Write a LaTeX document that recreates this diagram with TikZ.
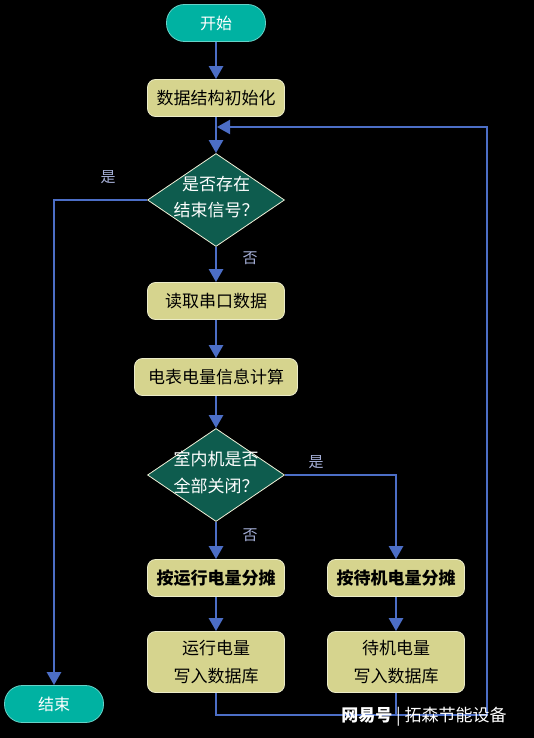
\documentclass[tikz,border=0pt]{standalone}
\usepackage{fontspec}
\setmainfont{Noto Sans CJK SC}
\usetikzlibrary{shapes.geometric,arrows.meta}
\definecolor{pillc}{RGB}{0,178,162}
\definecolor{boxc}{RGB}{214,212,142}
\definecolor{boxb}{RGB}{235,235,200}
\definecolor{diac}{RGB}{14,92,78}
\definecolor{linec}{RGB}{76,110,198}
\definecolor{lblc}{RGB}{165,175,215}
\tikzset{
  pill/.style={draw=pillc!60!white, line width=0.8pt, fill=pillc, rounded corners=18pt, minimum width=99pt, minimum height=37pt, inner sep=0pt, text=white, font=\fontsize{16}{19}\selectfont},
  box/.style={draw=boxb, line width=0.8pt, fill=boxc, rounded corners=8pt, minimum width=137pt, minimum height=37pt, inner sep=0pt, text=black, font=\fontsize{17}{20}\selectfont, align=center},
  tallbox/.style={box, minimum height=61pt, font=\fontsize{17}{28}\selectfont},
  dia/.style={diamond, draw=boxb!70!white, line width=0.8pt, fill=diac, minimum width=137pt, minimum height=93pt, inner sep=0pt, text=white, font=\fontsize{17}{20}\selectfont},
  conn/.style={draw=linec, line width=2.6pt},
  arr/.style={conn, -{Triangle[width=14pt,length=13pt]}},
  lbl/.style={text=lblc, font=\fontsize{15}{17}\selectfont, inner sep=0pt}
}
\newcommand{\diatext}[2]{\smash{\raisebox{-4pt}{\makebox[0pt]{\begin{tabular}{@{}c@{}}#1\\[6pt]#2\end{tabular}}}}}
\begin{document}
\begin{tikzpicture}[x=1pt,y=-1pt]
\fill[black] (0,0) rectangle (534,738);
\useasboundingbox (0,0) rectangle (534,738);
\node[pill] (start) at (216,23) {开始};
\node[box] (init) at (216,98) {数据结构初始化};
\node[dia] (d1) at (216,200) {\diatext{是否存在}{结束信号？}};
\node[box] (read) at (216,301) {读取串口数据};
\node[box, minimum width=163pt] (calc) at (216,377) {电表电量信息计算};
\node[dia] (d2) at (216,475) {\diatext{室内机是否}{全部关闭？}};
\node[box, font=\fontsize{17}{20}\selectfont\bfseries] (s1) at (216,578) {按运行电量分摊};
\node[box, font=\fontsize{17}{20}\selectfont\bfseries] (s2) at (396,578) {按待机电量分摊};
\node[tallbox] (w1) at (216,662) {运行电量\\写入数据库};
\node[tallbox] (w2) at (396,662) {待机电量\\写入数据库};
\node[pill] (end) at (54,704) {结束};
\node[lbl] (y1) at (108,177) {是};
\node[lbl] (n1) at (250,258) {否};
\node[lbl] (y2) at (316,462) {是};
\node[lbl] (n2) at (250,535) {否};
\coordinate (cr) at (487,715);
\coordinate (ct) at (487,127);
\coordinate (cin) at (217,127);
\draw[arr] (start) -- (init);
\draw[arr] (init) -- (d1);
\draw[arr] (d1) -- (read);
\draw[arr] (read) -- (calc);
\draw[arr] (calc) -- (d2);
\draw[arr] (d2) -- (s1);
\draw[arr] (s1) -- (w1);
\draw[arr] (s2) -- (w2);
\draw[arr] (d1.west) -| (end.north);
\draw[arr] (d2.east) -| (s2.north);
\draw[arr, line width=2pt] (w1.south) |- (cr) -- (ct) -- (cin);
\draw[conn, line width=2pt] (w2.south) -- (w2.south |- cr);
\node[text=white, font=\fontsize{17}{20}\selectfont, inner sep=0pt] (wm) at (424,717) {\textbf{网易号}\ \textbar\ 拓森节能设备};
\end{tikzpicture}
\end{document}
